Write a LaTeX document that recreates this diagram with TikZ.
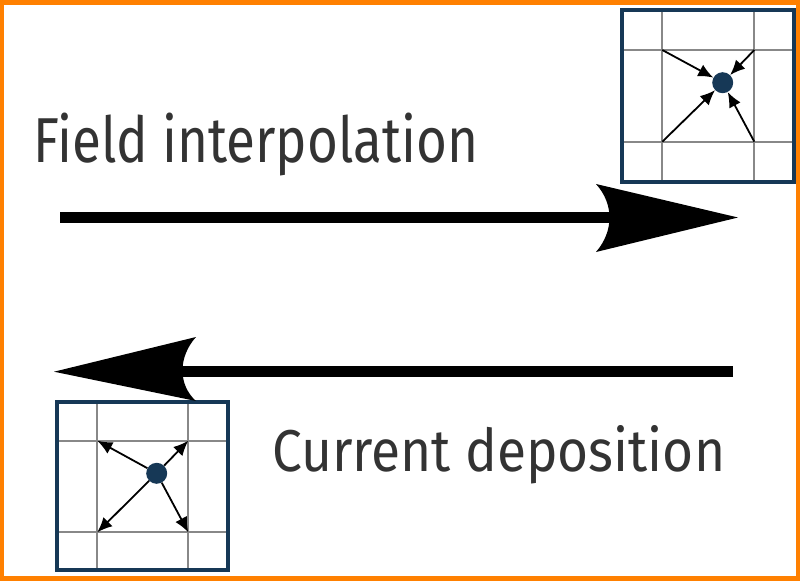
\documentclass[tikz,border=0pt]{standalone}
\usepackage{fontspec}
\setmainfont{Fira Sans}
\usetikzlibrary{arrows.meta}
\definecolor{navy}{RGB}{22,56,86}
\definecolor{frameorange}{RGB}{255,128,0}
\definecolor{textgray}{RGB}{51,51,51}
\definecolor{gridgray}{RGB}{136,136,136}
\tikzset{
  cellbox/.style={draw=navy, line width=4pt},
  gridline/.style={draw=gridgray, line width=2pt},
  dotnode/.style={circle, fill=navy, minimum size=21pt, inner sep=0pt},
  smallarrow/.style={draw=black, line width=1.8pt, -{Latex[length=15pt,width=13pt]}},
  bigline/.style={draw=black, line width=11pt},
  bighead/.style={fill=black},
  label/.style={text=textgray, inner sep=0pt, anchor=base west}
}
\begin{document}
\begin{tikzpicture}[x=1pt,y=-1pt]
\useasboundingbox (0,0) rectangle (800,581);
% orange frame
\draw[frameorange, line width=5pt] (1,2.5) rectangle (798.5,578);

% ---- top-right cell ----
\draw[gridline] (621.7,50) -- (794,50);
\draw[gridline] (621.7,141.7) -- (794,141.7);
\draw[gridline] (662.3,10) -- (662.3,181.7);
\draw[gridline] (754.3,10) -- (754.3,181.7);
\draw[cellbox] (621.7,10) rectangle (794,181.7);
\node[dotnode] (d1) at (722.7,82.7) {};
\coordinate (a1) at (662.3,50);
\coordinate (a2) at (754.3,50);
\coordinate (a3) at (662.3,141.7);
\coordinate (a4) at (754.3,141.7);
\foreach \c in {a1,a2,a3,a4} \draw[smallarrow] (\c) -- (d1);

% ---- bottom-left cell ----
\draw[gridline] (56.7,440.7) -- (228.3,440.7);
\draw[gridline] (56.7,532.3) -- (228.3,532.3);
\draw[gridline] (97.3,401.7) -- (97.3,570);
\draw[gridline] (188.3,401.7) -- (188.3,570);
\draw[cellbox] (56.7,401.7) rectangle (228.3,570);
\node[dotnode] (d2) at (156.7,473.3) {};
\coordinate (b1) at (97.3,440.7);
\coordinate (b2) at (188.3,440.7);
\coordinate (b3) at (97.3,532.3);
\coordinate (b4) at (188.3,532.3);
\foreach \c in {b1,b2,b3,b4} \draw[smallarrow] (d2) -- (\c);

% ---- big arrows ----
\coordinate (t0) at (60,217.5);
\coordinate (t1) at (620,217.5);
\draw[bigline] (t0) -- (t1);
\fill[bighead] (738,217.5) -- (596,184) .. controls (614,204) and (614,231) .. (596,252) -- cycle;

\coordinate (u0) at (733,371.2);
\coordinate (u1) at (172,371.2);
\draw[bigline] (u0) -- (u1);
\fill[bighead] (54,371.7) -- (196,337) .. controls (178,357) and (178,385) .. (196,401) -- cycle;

% ---- labels ----
\node[label] (l1) at (33,162.7) {\resizebox{445pt}{49.5pt}{Field interpolation}};
\node[label] (l2) at (272,471) {\resizebox{453pt}{46pt}{Current deposition}};
\end{tikzpicture}
\end{document}
